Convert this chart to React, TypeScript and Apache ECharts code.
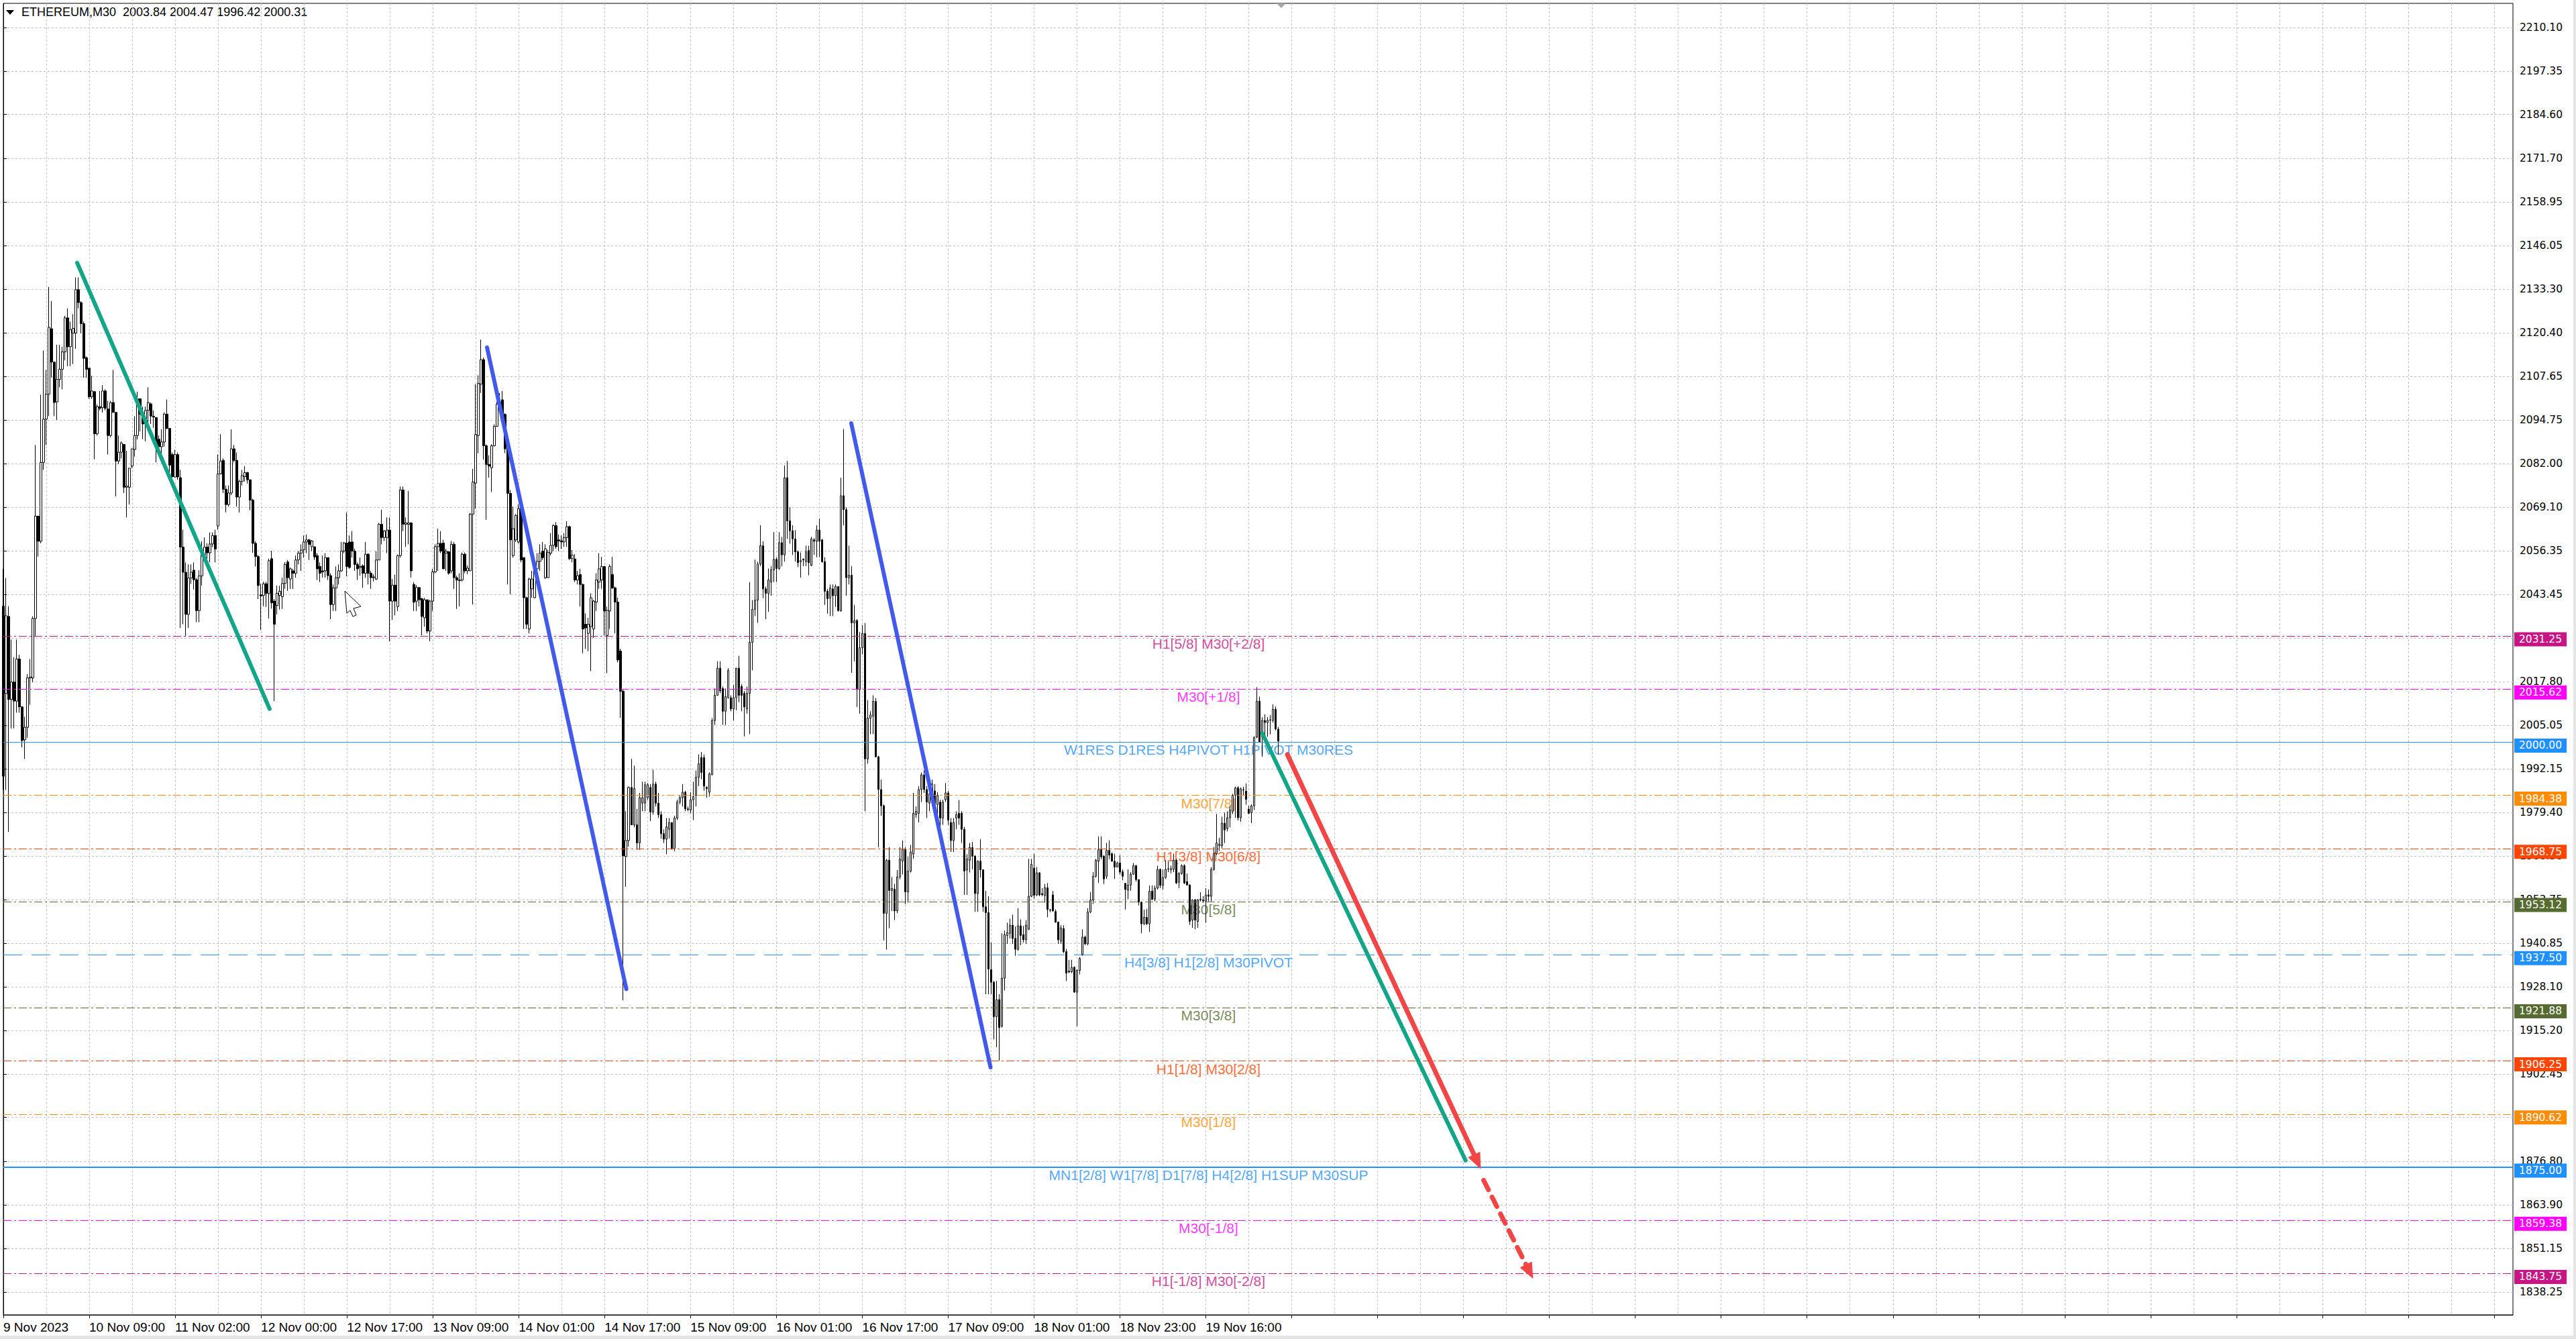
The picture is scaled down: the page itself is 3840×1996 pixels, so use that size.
import { useEffect, useRef } from 'react'
import * as echarts from 'echarts'

// one slot per M30 bar, the right part of the chart is the "shift" space
const SLOTS = 936

const TIME_LABELS = [
  '9 Nov 2023', '10 Nov 09:00', '11 Nov 02:00', '12 Nov 00:00', '12 Nov 17:00',
  '13 Nov 09:00', '14 Nov 01:00', '14 Nov 17:00', '15 Nov 09:00', '16 Nov 01:00',
  '16 Nov 17:00', '17 Nov 09:00', '18 Nov 01:00', '18 Nov 23:00', '19 Nov 16:00'
]

const Y_TICKS = [
  '2210.10', '2197.35', '2184.60', '2171.70', '2158.95', '2146.05', '2133.30', '2120.40',
  '2107.65', '2094.75', '2082.00', '2069.10', '2056.35', '2043.45', '2030.70', '2017.80',
  '2005.05', '1992.15', '1979.40', '1966.50', '1953.75', '1940.85', '1928.10', '1915.20',
  '1902.45', '1889.70', '1876.80', '1863.90', '1851.15', '1838.25'
]

// [open, close, low, high]
const BARS_A = [
  [2040, 1990, 1986, 2051], [2014.3, 2037.2, 1986, 2048.3], [2037, 2012.6, 1973.6, 2040], [2012.6, 2017.7, 2004, 2030.2],
  [2017.7, 2012.1, 2004.1, 2025], [2012.1, 2024.5, 2008.7, 2030.2], [2024.5, 2010.4, 2008.7, 2025.7], [2010.4, 2000.5, 1998.5, 2010.4],
  [2000.7, 2004.4, 1995.1, 2007.5], [2004.4, 2018.9, 2001.3, 2020], [2018.9, 2019.2, 2011, 2024.5], [2018.9, 2036.4, 2017.7, 2037],
  [2036.4, 2066.5, 2031.3, 2087.4], [2066.5, 2059.1, 2054.6, 2066.5], [2059.1, 2082.3, 2058.5, 2102.2], [2082.3, 2095, 2080.1, 2115.2],
  [2095, 2102.4, 2087.4, 2109.5], [2102.4, 2122, 2095.9, 2133.9], [2121.6, 2111.8, 2107.2, 2129.7], [2111.8, 2099.9, 2095.9, 2111.8],
  [2100.1, 2106.7, 2094.8, 2116.9], [2106.7, 2109.7, 2104.4, 2116.9], [2109.7, 2114.8, 2103.8, 2116.3], [2114.8, 2124.8, 2112.3, 2125.4],
  [2124.8, 2116.3, 2110.6, 2127.6], [2116.3, 2121.4, 2110.6, 2123.7], [2120.3, 2121.7, 2111.2, 2125.9], [2120.3, 2133.1, 2115.7, 2136.7],
  [2133.1, 2129.3, 2127.6, 2136.7], [2129.3, 2123.1, 2120.3, 2129.7], [2123.1, 2112.9, 2107.2, 2123.7], [2113.1, 2109.7, 2107.2, 2113.5],
  [2110, 2101.6, 2101, 2110], [2101.6, 2103.3, 2101, 2107.8], [2103.1, 2090.7, 2083.2, 2103.3], [2090.7, 2098.7, 2090.2, 2099.3],
  [2098.7, 2098.2, 2097.6, 2103.3], [2098.4, 2103.3, 2097, 2105], [2103.3, 2098.2, 2097.6, 2103.8], [2098, 2090.2, 2084.6, 2100.4],
  [2090.2, 2099.9, 2089.7, 2100.4], [2099.9, 2097, 2097, 2109.5], [2097, 2082.7, 2072.3, 2097], [2082.7, 2085.3, 2081.8, 2090.2],
  [2085.3, 2088, 2083.5, 2088.5], [2087.6, 2075, 2073.3, 2087.6], [2075, 2075.3, 2066.1, 2085.7], [2075, 2080.6, 2069.9, 2080.6],
  [2081.2, 2086.3, 2080.6, 2086.3], [2086.1, 2090.2, 2084, 2095.9], [2090.2, 2101, 2089.1, 2103.1], [2101, 2096.5, 2091.4, 2101],
  [2096.5, 2093.6, 2089.1, 2098.7], [2093.6, 2097.6, 2088.5, 2098.7], [2097.6, 2099.9, 2093.6, 2104.4], [2099.5, 2095.9, 2093.6, 2099.9],
  [2095.9, 2095.6, 2092.5, 2097.6], [2095.5, 2086.9, 2082.3, 2095.5], [2089.1, 2086.9, 2085.2, 2090.2], [2086.9, 2088.3, 2082.3, 2092],
  [2088.3, 2096.5, 2086.9, 2097], [2096.5, 2092.3, 2092, 2100.8], [2092.3, 2081.5, 2078.4, 2092.3], [2084.6, 2078.1, 2077.8, 2085.2],
  [2078, 2084.6, 2077.8, 2086], [2084.6, 2078, 2077.2, 2085.2], [2077.8, 2057.4, 2033.6, 2080.1], [2057.4, 2050, 2034.7, 2062.5],
  [2050, 2037.6, 2031.3, 2052.9], [2037.6, 2048.3, 2033.6, 2052.3], [2048.3, 2050, 2046.6, 2052.3], [2050.6, 2047.8, 2044.9, 2052.9],
  [2047.8, 2038.7, 2035.3, 2048.3], [2038.7, 2048.9, 2035.3, 2050.6], [2048.9, 2055.1, 2046.1, 2059.1], [2055.1, 2057.4, 2054, 2060.2],
  [2057.4, 2055.7, 2054, 2058.5], [2055.7, 2058.3, 2052.9, 2061.7], [2058.3, 2060.8, 2057.4, 2061.7], [2060.8, 2056.8, 2052.9, 2062.5],
  [2063.6, 2078.9, 2062.5, 2084.6], [2078.9, 2082.7, 2078.9, 2090.6], [2082.9, 2074.4, 2073.3, 2083.5], [2074.4, 2069.9, 2067.6, 2075.5],
  [2069.9, 2073.3, 2069.3, 2075.5], [2073.3, 2086.3, 2072.7, 2092], [2086.3, 2082.9, 2082.3, 2087.4], [2082.9, 2072.1, 2069.3, 2085.2],
  [2072.1, 2076.7, 2067.6, 2077.2], [2076.7, 2078.4, 2075.5, 2080.1], [2078.1, 2079.3, 2076.7, 2081.2], [2079.3, 2077.2, 2076.1, 2079.5],
  [2077.2, 2071.2, 2068.2, 2077.2], [2071.2, 2058.5, 2055.7, 2071.6], [2058.5, 2054.6, 2051.7, 2059.1], [2054.6, 2046.1, 2042.1, 2055.1],
  [2043.4, 2043, 2033, 2046.6], [2043.2, 2046.6, 2040, 2047.2], [2046.6, 2043.8, 2039.8, 2047.2], [2043.8, 2053.4, 2036.4, 2054],
  [2054, 2041, 2039.3, 2056.3], [2041.5, 2034.7, 2012.1, 2042.1], [2040.2, 2043.8, 2037.6, 2046.1], [2043.2, 2044.4, 2039, 2046]
]

const BARS_B = [
  [2042.8, 2046.7, 2039.2, 2048.4], [2046.7, 2052.3, 2045.1, 2053], [2053, 2048.4, 2044.5, 2053.6], [2048, 2051, 2045.1, 2051.4],
  [2050.4, 2049.7, 2045.1, 2051], [2049.7, 2053.6, 2048.4, 2054.9], [2053.6, 2055.6, 2052.3, 2056.2], [2055.6, 2056.5, 2050.4, 2058.2],
  [2056.6, 2058.9, 2054.3, 2060.8], [2058.9, 2059.5, 2055.6, 2061.1], [2059.5, 2058.2, 2053.6, 2059.8], [2057.5, 2059.2, 2056.2, 2059.5],
  [2057.5, 2054.5, 2053.6, 2057.5], [2054.9, 2051, 2047.7, 2055.6], [2051.7, 2049.7, 2047.1, 2052.9], [2050.4, 2050.1, 2048.4, 2054.9],
  [2050.4, 2054.3, 2048.4, 2055.6], [2054.3, 2049, 2047.7, 2054.3], [2049, 2040.5, 2036.2, 2049.7], [2040.5, 2045.4, 2038.6, 2046.4],
  [2045.4, 2048.4, 2038.6, 2051.7], [2048.4, 2050.4, 2046.4, 2052.3], [2050.4, 2056.2, 2050.1, 2058.9], [2056.2, 2058.6, 2055.6, 2058.9],
  [2058.6, 2051.7, 2048.8, 2067.6], [2058.9, 2051.4, 2051, 2060.8], [2058.9, 2056.2, 2054.3, 2062.1], [2056.2, 2052.3, 2050.4, 2056.9],
  [2052.3, 2051, 2047.7, 2052.9], [2051.4, 2051.7, 2049, 2054.3], [2051.9, 2049.7, 2045.4, 2052.3], [2049.7, 2055.3, 2048.4, 2058.9],
  [2055.3, 2049.7, 2046.4, 2055.6], [2049.7, 2048.4, 2045.1, 2050.4], [2048.4, 2048.6, 2047.3, 2049.4], [2048, 2053.6, 2047.7, 2056.2],
  [2053.6, 2064.1, 2053.6, 2064.5], [2064.1, 2060.2, 2058.2, 2068.4], [2060.2, 2062.1, 2059.2, 2062.4], [2060.2, 2062.4, 2055.6, 2066.1],
  [2062.4, 2041.5, 2029.7, 2066.1], [2041.5, 2046.2, 2036, 2048], [2046.2, 2041.5, 2037.3, 2049.3], [2039.9, 2054.9, 2038.6, 2055.2],
  [2054.9, 2074.2, 2054.3, 2075.2], [2074.2, 2064.1, 2062.1, 2075.2], [2064.1, 2064.5, 2057.5, 2066.1], [2064.1, 2064.5, 2058.2, 2073.9],
  [2064.5, 2050.4, 2048.4, 2064.7], [2046.4, 2041.2, 2038.6, 2047.1], [2041.5, 2045.5, 2038.6, 2046.2], [2045.5, 2041.9, 2039.9, 2045.5],
  [2042.2, 2037, 2031.4, 2042.5], [2036.6, 2041.9, 2034, 2042.5], [2041.9, 2032.7, 2032, 2041.9], [2032.7, 2041.5, 2029.7, 2041.9],
  [2041.5, 2050.1, 2038.6, 2051], [2050.1, 2057.5, 2049.7, 2058.2], [2057.5, 2058.5, 2050.4, 2062.8], [2058.5, 2056.2, 2055.6, 2062.1],
  [2058.6, 2051, 2051, 2059.5], [2055.6, 2056.2, 2050.4, 2056.9], [2056, 2049.7, 2049.3, 2056.2], [2050.4, 2058.2, 2049.7, 2059.2],
  [2058.2, 2048.4, 2045.1, 2058.9], [2048.4, 2047.7, 2039.2, 2049], [2047.7, 2047.5, 2039.9, 2049.7], [2047.7, 2055.3, 2047.3, 2055.8],
  [2055.3, 2050.4, 2049.7, 2055.8], [2050.4, 2051.2, 2049.4, 2052], [2050.4, 2067.1, 2050.4, 2067.4], [2067.1, 2076.5, 2040.5, 2080.4],
  [2076.2, 2090.5, 2068.7, 2105.3], [2090.2, 2105.5, 2085, 2107.9], [2105.3, 2112.5, 2102.7, 2118.4], [2112.5, 2087.2, 2083.1, 2113.1],
  [2087.2, 2081.7, 2065.4, 2087.6], [2081.7, 2081.2, 2077.8, 2084.4], [2080.7, 2087.2, 2073.6, 2087.6], [2087.2, 2092.9, 2087, 2093.5],
  [2092.9, 2099.4, 2092.9, 2100.1], [2098.7, 2100.1, 2097.5, 2102.7], [2100.7, 2096.1, 2095.5, 2103.3], [2096.4, 2086.3, 2085, 2096.8],
  [2086.3, 2073.2, 2046.4, 2086.6], [2073.2, 2059.5, 2043.5, 2074.2], [2054.9, 2062.8, 2054.3, 2069.3], [2059.5, 2066.7, 2058.9, 2067.1],
  [2058.9, 2068.7, 2058.5, 2070], [2068.7, 2053.6, 2052.9, 2068.7], [2054.3, 2042.5, 2033.3, 2054.3], [2042.5, 2034.7, 2033.3, 2042.8],
  [2033.3, 2048, 2032, 2048.4], [2045.1, 2048, 2042.5, 2050.4], [2042.5, 2051, 2042.5, 2051.7], [2051, 2053.2, 2050.4, 2055.6],
  [2053.2, 2055.6, 2050.4, 2058.2], [2056.2, 2054.3, 2053.6, 2058.9], [2048.4, 2056.9, 2048, 2058.2], [2048.4, 2055.8, 2048.4, 2056.6],
  [2055.6, 2057.9, 2054.9, 2061.5], [2057.9, 2063.7, 2056.2, 2064.1], [2063.7, 2057.5, 2056.9, 2064.7], [2059.5, 2059.2, 2056.2, 2061.1],
  [2059.2, 2058.9, 2056.9, 2060.8], [2058.9, 2060.2, 2057.5, 2061.5], [2060.2, 2063.4, 2057.5, 2065], [2063.4, 2054, 2053.6, 2063.7],
  [2054, 2055, 2052.9, 2056.5], [2053.9, 2047.7, 2047.1, 2055.3], [2047.7, 2049, 2046.4, 2050.4], [2049.3, 2046.4, 2039.9, 2051],
  [2046.4, 2033.3, 2026.2, 2046.7], [2034.7, 2033.6, 2027.5, 2037.9], [2032, 2034.7, 2026.8, 2036.6], [2034, 2042.5, 2020.9, 2043.8],
  [2033.3, 2041.5, 2030.7, 2041.9], [2041.2, 2047.7, 2038.6, 2049.7], [2047.1, 2051, 2045.1, 2055.6], [2047.7, 2051.7, 2045.1, 2054.5],
  [2051.7, 2038.6, 2031.4, 2051.7], [2031.4, 2038.8, 2020.3, 2039.9], [2038.6, 2051.7, 2033.3, 2052.3], [2049.3, 2045.4, 2045.1, 2054.5],
  [2045.4, 2041.2, 2032, 2045.8], [2041.2, 2024.2, 2023.5, 2042.5], [2026.8, 2015, 2007.2, 2027.5], [2015, 1966.6, 1924.1, 2015.7]
]

const BARS_C = [
  [1966.4, 1971.1, 1957.5, 1979.7], [1971.1, 1986.7, 1969.3, 1987], [1986.7, 1975.7, 1975.7, 1995.1], [1975.7, 1986.4, 1975, 1993.1],
  [1975.7, 1970.4, 1968.4, 1980.4], [1970.4, 1983.7, 1968.4, 1985.1], [1982.1, 1983.7, 1979.7, 1988.4], [1982.1, 1987.5, 1979.7, 1988.4],
  [1983.7, 1987.5, 1983, 1988], [1986.7, 1979.5, 1976.8, 1987.7], [1979.5, 1987.7, 1978.7, 1991.9], [1987.7, 1982.1, 1981.1, 1988.4],
  [1982.1, 1978.7, 1977.7, 1985.1], [1978.7, 1973.1, 1971.7, 1979.7], [1973.1, 1971.5, 1970.4, 1974.4], [1971.5, 1975.1, 1967.1, 1977.7],
  [1974.4, 1976.4, 1971.7, 1977.7], [1976.4, 1968.8, 1968.4, 1976.4], [1968.8, 1977.7, 1968, 1978.4], [1977.7, 1982.4, 1977.1, 1983.1],
  [1982.4, 1983.7, 1981.7, 1984.4], [1983.7, 1985.3, 1981.1, 1987.7], [1985.3, 1980.4, 1979.7, 1985.7], [1980.4, 1980.2, 1979.7, 1981.1],
  [1980, 1983.1, 1979.1, 1985.3], [1983.1, 1984, 1977.1, 1988.4], [1984.4, 1989.7, 1981.1, 1991.7], [1989.7, 1993.7, 1987.1, 1996.4],
  [1995.5, 1991.1, 1989.1, 1997.1], [1995.5, 1987.1, 1985.7, 1996.4], [1986.7, 1986.4, 1983.7, 1987.1], [1985.3, 1990.7, 1984, 1991.1],
  [1990.4, 2006.4, 1990.4, 2007.1], [2006.4, 2013.8, 2005.1, 2015.8], [2013.8, 2021.8, 2013.8, 2023.8], [2021.8, 2015.1, 2014.4, 2023.8],
  [2015.8, 2009.1, 2005.1, 2016.4], [2009.1, 2013.4, 2005.1, 2015.8], [2013.1, 2021.1, 2012.8, 2021.8], [2013.1, 2009.8, 2009.1, 2013.8],
  [2009.8, 2013.1, 2006.4, 2016.8], [2013.1, 2021.8, 2009.4, 2021.8], [2021.8, 2013.8, 2011.8, 2025.4], [2016.4, 2013.8, 2009.1, 2017.1],
  [2014.4, 2010.4, 2001.7, 2015.1], [2009.8, 2014.4, 2008.4, 2016.4], [2014.4, 2029.4, 2002.4, 2047.1], [2029.4, 2039.1, 2021.1, 2041.8],
  [2039.1, 2041.8, 2037.1, 2053.7], [2041.8, 2052.4, 2035.1, 2053.1], [2052.4, 2057.8, 2051.8, 2063.8], [2057.8, 2045.1, 2042.4, 2059.1],
  [2045.1, 2043.8, 2036.2, 2045.8], [2043.8, 2047.8, 2038.4, 2051.1], [2047.1, 2050.7, 2043.1, 2051.8], [2050.7, 2053.8, 2047.1, 2061.8],
  [2053.8, 2051.1, 2047.1, 2054.4], [2051.1, 2058.7, 2050.7, 2061.8], [2058.7, 2055.1, 2051.8, 2060.4], [2055.1, 2077.8, 2053.1, 2081.4],
  [2077.8, 2065.1, 2059.8, 2082.7], [2065.1, 2062.2, 2058.4, 2069.1], [2062.2, 2059.8, 2055.1, 2063.8], [2059.8, 2056, 2053.1, 2062.4],
  [2056, 2052.8, 2051.5, 2056.4], [2053.1, 2053.4, 2048.4, 2055.8], [2053.8, 2053.6, 2051.8, 2054.1], [2053.1, 2056, 2051.8, 2057.8],
  [2056.4, 2052.8, 2049.1, 2057.8], [2052, 2059.8, 2051.8, 2060.4], [2059.5, 2059.1, 2055.1, 2060], [2059.1, 2062.4, 2054.4, 2063.8],
  [2062.4, 2059.1, 2054.4, 2065.8], [2059.5, 2053.1, 2052.8, 2059.8], [2053.1, 2044.4, 2040.4, 2054.4], [2044.4, 2042.2, 2037.8, 2045.1],
  [2042.4, 2045.4, 2037.1, 2046.4], [2045.1, 2043.1, 2037.1, 2046.4], [2043.1, 2045.8, 2039.8, 2046.4], [2045.8, 2038.7, 2038.4, 2045.8],
  [2038.7, 2072.5, 2038.4, 2077.8], [2072.5, 2068.4, 2063.8, 2092.1], [2068.4, 2048.4, 2043.1, 2069.1], [2048.4, 2049.1, 2046.4, 2057.8],
  [2049.1, 2035.1, 2020.4, 2051.8], [2035.1, 2035.8, 2023.8, 2040.4], [2035.8, 2015.5, 2010.4, 2036.2], [2015.5, 2027.8, 2008.4, 2032.4],
  [2027.8, 2032, 2025.8, 2034.4], [2032, 1995.1, 1979.7, 2035.1], [1995.1, 2007.1, 1993.7, 2012.4], [2007.1, 2008, 2002.4, 2009.1],
  [2007.7, 2012, 2002.4, 2013.8], [2012, 1995.7, 1995.7, 2013], [1995.7, 1986.1, 1969.1, 1996], [1986.1, 1981.3, 1978.4, 1989],
  [1981.3, 1949.7, 1941.7, 1981.7], [1949.7, 1965.3, 1939, 1965.7], [1965.3, 1956.4, 1945.3, 1969.1], [1956.4, 1957, 1950.4, 1960.4],
  [1956.8, 1950.4, 1947.7, 1958.4], [1950.4, 1960.4, 1949.7, 1962.4], [1960.4, 1965.7, 1959.7, 1969.1], [1965.1, 1968.4, 1961.1, 1971.1],
  [1968.4, 1956, 1952.4, 1969.1], [1956, 1962.1, 1952.8, 1966.4], [1962.1, 1967.7, 1961.7, 1969.8], [1967.1, 1979.1, 1965.7, 1985.1],
  [1978.7, 1979.7, 1977.7, 1981.1], [1979.1, 1986.1, 1976.4, 1987.1], [1986.1, 1990.4, 1982.4, 1991.1], [1990.4, 1986.1, 1985.1, 1991.7],
  [1986.1, 1982.4, 1977.7, 1987.1], [1982.1, 1984.8, 1979.7, 1987.1], [1984.4, 1987.7, 1983, 1989], [1985.7, 1981.7, 1981.1, 1987.7],
  [1981.7, 1984.4, 1977.7, 1985.3], [1982.4, 1977.7, 1974.4, 1983.1], [1977.7, 1982.4, 1975.7, 1983.1], [1983.1, 1985.1, 1982.4, 1988],
  [1985.1, 1977.1, 1975.7, 1985.7], [1976.4, 1971.1, 1967.7, 1977.7], [1971.1, 1976.4, 1967.7, 1977.7], [1977.7, 1978.7, 1974.4, 1979.7],
  [1979.1, 1977.7, 1975.7, 1983], [1979.1, 1974.4, 1970.4, 1979.7], [1974.4, 1962.1, 1955.1, 1975.1], [1962.4, 1965.7, 1955.1, 1967.1],
  [1965.3, 1969.1, 1961.7, 1970.4]
]

const BARS_D = [
  [1969, 1966.5, 1962.6, 1970.7], [1966.5, 1955.5, 1950.1, 1966.8], [1955.5, 1965, 1950.1, 1965.3], [1965, 1962.5, 1960.2, 1971.5],
  [1962.5, 1951.6, 1950.1, 1962.5], [1951.6, 1949.9, 1925.9, 1956.3], [1949.9, 1933.3, 1925.9, 1954.7], [1933.1, 1929.4, 1925.9, 1941.1],
  [1929.4, 1919.3, 1912.6, 1929.8], [1919.3, 1924.3, 1910.3, 1929.8], [1924.3, 1916.1, 1906.4, 1925.9], [1916.5, 1930.6, 1916.1, 1943.8],
  [1930.6, 1943.4, 1927, 1944.6], [1943.2, 1944, 1940.7, 1946.9], [1943.8, 1946.2, 1942.3, 1948.1], [1946.2, 1942.3, 1940.7, 1949.3],
  [1942.3, 1939.1, 1937.2, 1945.8], [1939.1, 1946, 1938.7, 1951.2], [1946, 1943.2, 1940.3, 1947.9], [1943.4, 1941.9, 1941.1, 1946],
  [1941.9, 1946.2, 1940.7, 1947.7], [1945, 1954.7, 1944.8, 1965.7], [1954.7, 1964.1, 1954.4, 1965.7], [1963, 1955, 1954, 1967.2],
  [1955.1, 1961.6, 1954.7, 1963.3], [1961.6, 1955.1, 1954.7, 1961.8], [1955.5, 1955.2, 1954.7, 1957.1], [1954.9, 1957.2, 1952.8, 1958.3],
  [1957.2, 1950.8, 1948.5, 1958.6], [1950.7, 1950.6, 1950, 1951], [1955.1, 1950.4, 1950.1, 1956.3], [1950.2, 1947.1, 1946.9, 1950.8],
  [1947.1, 1941.9, 1940.7, 1947.3], [1941.5, 1945.4, 1940.7, 1946.2], [1945.2, 1938.4, 1938, 1946.2], [1938.4, 1932.1, 1929.8, 1939.2],
  [1932.7, 1932.4, 1932.1, 1936], [1932.5, 1933.8, 1932.1, 1936], [1933.8, 1926.5, 1926.3, 1934.1], [1926.5, 1932.9, 1916.5, 1933.3],
  [1932.9, 1936.4, 1931.7, 1936.8], [1937.6, 1942.7, 1937.2, 1945], [1942.7, 1940.7, 1940.3, 1943.1], [1940.7, 1950.1, 1940.3, 1951.2],
  [1950.1, 1953.6, 1949.7, 1955.9], [1953.6, 1960.6, 1952.4, 1961.8], [1960.6, 1965.3, 1960.2, 1965.7], [1965, 1968.4, 1958.6, 1972.3],
  [1968.4, 1966.3, 1965.6, 1972.3], [1966.5, 1959.8, 1958.3, 1966.8], [1960.6, 1968.2, 1959.8, 1970.4], [1968.2, 1966.8, 1965.6, 1971.1],
  [1967.2, 1965, 1964.9, 1967.6], [1965, 1963.3, 1959.8, 1967.2], [1963.3, 1964.5, 1963.3, 1964.9], [1964.5, 1961.8, 1961, 1966.8],
  [1961.9, 1960.6, 1959.4, 1962.6], [1958.5, 1956.7, 1950.8, 1958.6], [1956.5, 1958, 1953.9, 1962.6], [1958, 1961.2, 1956.3, 1961.8],
  [1961.2, 1963.7, 1961, 1964.5], [1963.7, 1959.6, 1959, 1963.9], [1959.6, 1953, 1952, 1959.6], [1953, 1946.6, 1943.8, 1953.2],
  [1946.6, 1948.5, 1946.2, 1950.8], [1948.5, 1946.6, 1946.2, 1951], [1946.6, 1956.2, 1944.2, 1957.9], [1956.2, 1953.8, 1953.6, 1957.9],
  [1953.9, 1957.1, 1953.2, 1957.9], [1957.1, 1962.6, 1956.7, 1963.7], [1962.6, 1957.9, 1957.1, 1962.9], [1957.9, 1960.2, 1956.7, 1962.6],
  [1960.2, 1962.6, 1959.8, 1965.3], [1962.7, 1962.8, 1961.8, 1964.9], [1962.8, 1962.6, 1961.5, 1963.7], [1962.6, 1965.3, 1961.8, 1967.2],
  [1965.3, 1958.6, 1958.3, 1965.7], [1958.8, 1961.4, 1957.1, 1961.8], [1961.4, 1963.7, 1961, 1964.1], [1963.7, 1958.6, 1958.3, 1964.1],
  [1959, 1958, 1957.9, 1961.4], [1958, 1947.3, 1946.3, 1958.3], [1947.7, 1953.6, 1945.4, 1953.8], [1953.6, 1947.7, 1945, 1953.9],
  [1947.3, 1953.6, 1945.4, 1953.9], [1953.6, 1953.8, 1953.2, 1955.9], [1953.6, 1953.4, 1952.8, 1954.7], [1953.2, 1955.1, 1946.9, 1957.1],
  [1955.1, 1954.7, 1953.2, 1956.7], [1954.7, 1962.6, 1953.2, 1963.3], [1962.6, 1967.2, 1962.2, 1969.2], [1967.2, 1970.4, 1966.8, 1978.9],
  [1969.6, 1970, 1968, 1971.9], [1969.6, 1976.2, 1968.8, 1978.1], [1976.2, 1974.2, 1970.4, 1979.3], [1974.6, 1977.8, 1973.8, 1979.7],
  [1977.8, 1980.1, 1975, 1981.3], [1979.7, 1984.4, 1978.9, 1984.8], [1984.4, 1986.6, 1977.8, 1986.9], [1986.6, 1977.8, 1977, 1987.1],
  [1977.8, 1986.3, 1976.6, 1986.7], [1986, 1985.9, 1984.4, 1986.9], [1985.6, 1983.2, 1981.6, 1987.9], [1980.3, 1979.1, 1978.9, 1981.3],
  [1979.3, 1981.3, 1976.2, 1981.7], [1981.3, 2001.5, 1980.1, 2001.7], [2001.5, 2012.1, 2001.2, 2016.2], [2012.1, 2000, 2000, 2013.4],
  [2001.6, 2006.4, 1995.7, 2007.4], [2006.4, 2005.8, 2001.2, 2008.2], [2005.8, 2006.5, 2001.6, 2007.4], [2006.5, 2006.6, 2002.3, 2008],
  [2006.4, 2009.7, 2005.8, 2011.1], [2009.7, 2003.9, 2003.5, 2010.5], [2003.84, 2000.31, 1996.42, 2004.47]
]

const LEVELS = [2031.25, 2015.62, 2000.0, 1984.38, 1968.75, 1953.12, 1937.5, 1921.88, 1906.25, 1890.62, 1875.0, 1859.38, 1843.75]
const LEVEL_NAMES = [
  'H1[5/8] M30[+2/8]', 'M30[+1/8]', 'W1RES D1RES H4PIVOT H1PIVOT M30RES', 'M30[7/8]',
  'H1[3/8] M30[6/8]', 'M30[5/8]', 'H4[3/8] H1[2/8] M30PIVOT', 'M30[3/8]', 'H1[1/8] M30[2/8]',
  'M30[1/8]', 'MN1[2/8] W1[7/8] D1[7/8] H4[2/8] H1SUP M30SUP', 'M30[-1/8]', 'H1[-1/8] M30[-2/8]'
]
const LEVEL_COLORS = [
  '#C71585', '#FF00FF', '#1E90FF', '#FF8C00', '#FF4500', '#556B2F', '#1E90FF',
  '#556B2F', '#FF4500', '#FF8C00', '#1E90FF', '#FF00FF', '#C71585'
]
const LEVEL_KINDS = [
  'dashdot', 'dashdot', 'solid', 'dashdot', 'dashdot', 'dashdot', 'dashed',
  'dashdot', 'dashdot', 'dashdot', 'solid2', 'dashdot', 'dashdot'
]
const BID = 2000.31

// drawn trend lines: [bar from, price from, bar to, price to]
const TRENDS = [
  [27.5, 2141.0, 99.2, 2009.8],
  [180.2, 2116.1, 232.1, 1927.4],
  [315.9, 2093.8, 367.8, 1904.4],
  [469.0, 2002.7, 544.8, 1877.0],
  [478.4, 1996.4, 549.2, 1876.6],
  [551.5, 1871.2, 568.6, 1844.3]
]
const TREND_COLORS = ['#12A588', '#4159EC', '#4159EC', '#12A588', '#F24545', '#F24545']

const BARS = [...BARS_A, ...BARS_B, ...BARS_C, ...BARS_D]
const Y_VALUES = Y_TICKS.map(Number)

function lineType(kind: string) {
  if (kind === 'dashdot') return [12, 4, 3, 4]
  if (kind === 'dashed') return [28, 14]
  return 'solid'
}

function App() {
  const chartRef = useRef<HTMLDivElement>(null)

  useEffect(() => {
    if (!chartRef.current) return
    document.body.style.margin = '0'
    const chart = echarts.init(chartRef.current, null, { renderer: 'svg' })
    const cats = Array.from({ length: SLOTS }, (_, i) => String(i))

    const levelLines: any[] = [
      {
        yAxis: BID,
        lineStyle: { opacity: 0 },
        label: { backgroundColor: '#000', offset: [0, -1] }
      }
    ]
    LEVELS.forEach((v, k) => {
      levelLines.push({
        yAxis: v,
        lineStyle: {
          color: LEVEL_COLORS[k],
          type: lineType(LEVEL_KINDS[k]),
          width: LEVEL_KINDS[k] === 'solid2' ? 2 : 1
        },
        label: { backgroundColor: LEVEL_COLORS[k] }
      })
    })

    const trendLines = TRENDS.map((t, k) => {
      const arrow = k >= 4
      return [
        { coord: [t[0], t[1]], symbol: 'none' },
        {
          coord: [t[2], t[3]],
          symbol: arrow ? 'triangle' : 'none',
          symbolSize: [20, 24],
          lineStyle: {
            color: TREND_COLORS[k],
            width: arrow ? 7 : 6,
            type: k === 5 ? [16, 12] : 'solid',
            cap: 'round'
          },
          itemStyle: { color: TREND_COLORS[k] }
        }
      ]
    })

    chart.setOption({
      animation: false,
      backgroundColor: '#fff',
      grid: {
        left: 5, right: 94, top: 5, bottom: 36,
        show: true, borderColor: '#000', borderWidth: 1, backgroundColor: '#fff'
      },
      xAxis: [
        {
          type: 'category',
          data: cats,
          boundaryGap: false,
          axisLine: { lineStyle: { color: '#000', width: 1 } },
          axisTick: {
            interval: (i: number) => i % 32 === 0,
            length: 5,
            lineStyle: { color: '#000' }
          },
          axisLabel: {
            interval: (i: number) => i % 32 === 0 && i / 32 < TIME_LABELS.length,
            formatter: (_v: string, i: number) => TIME_LABELS[i / 32] ?? '',
            align: 'left',
            color: '#000',
            fontFamily: 'Liberation Sans',
            fontSize: 19,
            margin: 9
          },
          splitLine: {
            show: true,
            interval: (i: number) => i % 16 === 0 && i > 0,
            lineStyle: { color: '#c0c0c0', type: [3, 3] }
          }
        },
        { type: 'value', min: 0, max: SLOTS - 1, show: false }
      ],
      yAxis: {
        type: 'value',
        position: 'right',
        min: 1831.6,
        max: 2217.3,
        axisLine: { show: true, lineStyle: { color: '#000' } },
        axisTick: { show: true, customValues: Y_VALUES, length: 5, lineStyle: { color: '#000' } },
        axisLabel: {
          customValues: Y_VALUES,
          formatter: (v: number) => v.toFixed(2),
          color: '#000',
          fontFamily: 'DejaVu Sans',
          fontSize: 15.5,
          margin: 10
        },
        splitLine: { show: true, lineStyle: { color: '#c0c0c0', type: [3, 3] } }
      },
      series: [
        {
          name: 'levels',
          type: 'line',
          data: [],
          z: 1,
          markLine: {
            silent: true,
            symbol: ['none', 'none'],
            label: {
              show: true,
              position: 'end',
              distance: 2,
              formatter: (p: any) => Number(p.value).toFixed(2),
              color: '#fff',
              fontFamily: 'DejaVu Sans',
              fontSize: 15.5,
              padding: [3, 7, 2, 7],
              offset: [0, 5]
            },
            data: levelLines
          }
        },
        {
          name: 'level names',
          type: 'scatter',
          xAxisIndex: 1,
          z: 1,
          symbolSize: 0,
          silent: true,
          label: {
            show: true,
            position: 'bottom',
            distance: 1,
            fontFamily: 'Liberation Sans',
            fontSize: 21
          },
          data: LEVELS.map((v, k) => ({
            value: [449, v],
            label: { formatter: LEVEL_NAMES[k], color: LEVEL_COLORS[k] }
          }))
        },
        {
          name: 'ETHEREUM,M30',
          type: 'candlestick',
          z: 3,
          barWidth: 3,
          data: BARS,
          itemStyle: {
            color: '#fff',
            color0: '#000',
            borderColor: '#000',
            borderColor0: '#000',
            borderWidth: 1
          }
        },
        {
          name: 'trends',
          type: 'line',
          xAxisIndex: 1,
          data: [],
          z: 4,
          markLine: {
            silent: true,
            label: { show: false },
            data: trendLines
          }
        }
      ],
      graphic: [
        {
          type: 'polygon',
          shape: { points: [[9, 15], [21, 15], [15, 22]] },
          style: { fill: '#000' }
        },
        {
          type: 'text',
          left: 32,
          top: 9,
          style: {
            text: 'ETHEREUM,M30  2003.84 2004.47 1996.42 2000.31',
            fill: '#000',
            fontFamily: 'Liberation Sans',
            fontSize: 18
          }
        },
        {
          type: 'polygon',
          shape: { points: [[1903, 5], [1917, 5], [1910, 12]] },
          style: { fill: '#a8a8a8' }
        },
        {
          type: 'polygon',
          z: 10,
          shape: {
            points: [[514, 881], [538, 904], [527, 907], [531, 917], [526, 919], [522, 910], [517, 914]]
          },
          style: { fill: '#fff', stroke: '#000', lineWidth: 1 }
        },
        {
          type: 'rect',
          shape: { x: 0, y: 1991, width: 3840, height: 5 },
          style: { fill: '#e4e4e4' }
        },
        {
          type: 'rect',
          shape: { x: 3836, y: 0, width: 4, height: 1996 },
          style: { fill: '#e4e4e4' }
        }
      ]
    })

    return () => {
      chart.dispose()
    }
  }, [])

  return <div ref={chartRef} style={{ width: 3840, height: 1996 }} />
}

export default App
